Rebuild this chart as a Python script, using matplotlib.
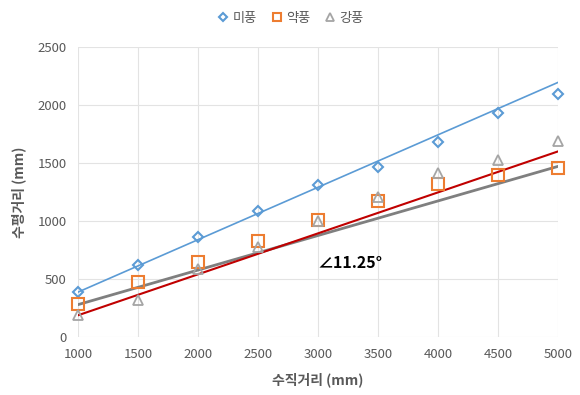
import matplotlib
matplotlib.use("Agg")
import matplotlib.pyplot as plt
import numpy as np

plt.rcParams['font.family'] = ['Noto Sans CJK KR', 'DejaVu Sans']

x = [1000, 1500, 2000, 2500, 3000, 3500, 4000, 4500, 5000]
mipung = [392, 621, 865, 1086, 1316, 1468, 1681, 1937, 2095]
yakpung = [287, 474, 649, 828, 1015, 1172, 1322, 1402, 1463]
gangpung = [190, 319, 592, 778, 1003, 1210, 1420, 1526, 1696]

line_x = [1000, 5000]
blue_line = [390, 2198]
red_line = [190, 1603]
gray_line = [282, 1474]

series_names = ['미풍', '약풍', '강풍']
annotation = '∠11.25°'

fig = plt.figure(figsize=(5.8, 3.95), dpi=100)
ax = fig.add_axes([0.1345, 0.146, 0.8275, 0.734])

ax.plot(line_x, blue_line, color='#5B9BD5', lw=1.2, zorder=2)
ax.plot(line_x, gray_line, color='#7F7F7F', lw=2.0, zorder=2)
ax.plot(line_x, red_line, color='#C00000', lw=1.5, zorder=2)

ax.plot(x, mipung, ls='none', marker='D', ms=5, mfc='none', mec='#5B9BD5', mew=1.5,
        label=series_names[0], zorder=3, clip_on=False)
ax.plot(x, yakpung, ls='none', marker='s', ms=8, mfc='none', mec='#ED7D31', mew=1.5,
        label=series_names[1], zorder=3, clip_on=False)
ax.plot(x, gangpung, ls='none', marker='^', ms=7, mfc='none', mec='#A5A5A5', mew=1.3,
        label=series_names[2], zorder=3, clip_on=False)

ax.set_xlim(1000, 5000)
ax.set_ylim(0, 2500)
ax.set_xticks(np.arange(1000, 5001, 500))
ax.set_yticks(np.arange(0, 2501, 500))
ax.grid(True, color='#E3E3E3', lw=0.8)
ax.set_axisbelow(True)
for s in ax.spines.values():
    s.set_visible(False)
ax.tick_params(length=0, labelsize=9.5, labelcolor='#595959', pad=8)
ax.set_xlabel('수직거리 (mm)', fontsize=10, fontweight='bold', color='#595959', labelpad=8)
ax.set_ylabel('수평거리 (mm)', fontsize=10, fontweight='bold', color='#595959', labelpad=8)

ax.text(2992, 640, annotation, fontsize=11.5, fontweight='bold', color='black', ha='left', va='center')

leg = fig.legend(loc='upper center', bbox_to_anchor=(0.5, 1.0), ncol=3, frameon=False,
                 fontsize=9.5, handletextpad=0.2, columnspacing=1.0, handlelength=1.0,
                 markerscale=0.8)
for t in leg.get_texts():
    t.set_color('#595959')

fig.savefig('out.png', dpi=100)
